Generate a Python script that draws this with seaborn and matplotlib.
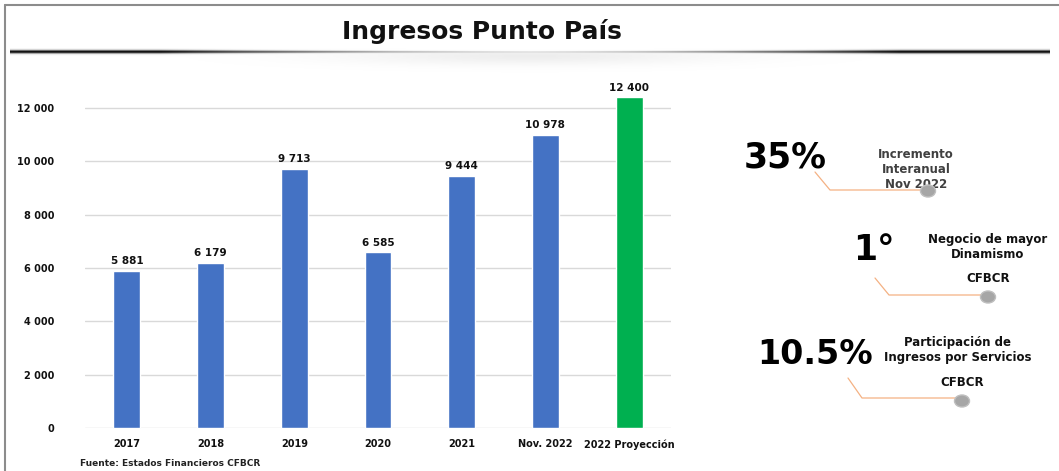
import numpy as np
import pandas as pd
import seaborn as sns
import matplotlib.pyplot as plt
from matplotlib.lines import Line2D
from matplotlib.patches import Ellipse

categories = ['2017', '2018', '2019', '2020', '2021', 'Nov. 2022', '2022 Proyección']
values = [5881, 6179, 9713, 6585, 9444, 10978, 12400]
bar_colors = ['#4472C4'] * 6 + ['#00B050']
y_ticks = [0, 2000, 4000, 6000, 8000, 10000, 12000]


def fmt(v):
    return f'{v:,}'.replace(',', ' ')


sns.set_style('white')
plt.rcParams['font.family'] = ['DejaVu Sans']

W, H = 1059, 471
fig = plt.figure(figsize=(W / 100, H / 100), dpi=100)
fig.patch.set_facecolor('white')


def px(x, y):
    return x / W, 1 - y / H


# frame (top and left edges only)
fig.add_artist(Line2D([5 / W, 1], [1 - 5 / H] * 2, color='#8c8c8c', lw=1.5,
                      transform=fig.transFigure))
fig.add_artist(Line2D([5 / W] * 2, [0, 1 - 5 / H], color='#8c8c8c', lw=1.5,
                      transform=fig.transFigure))

# title + shaded rule beneath it
fig.text(*px(482, 32), 'Ingresos Punto País', ha='center', va='center',
         fontsize=18, fontweight='bold', color='#111111')
gax = fig.add_axes([10 / W, 1 - 74 / H, 1040 / W, 26 / H])
xs = np.linspace(-1, 1, 600)
ys = np.linspace(0, 1, 26)[:, None]
edge = np.clip(np.abs(xs) * 1.4, 0, 1) ** 1.3
line = np.exp(-((ys - 0.13) / (0.03 + 0.05 * edge)) ** 2) * (0.2 + 0.75 * edge)
shade = np.exp(-((ys - 0.3) / 0.35) ** 2) * np.exp(-(xs / 0.35) ** 2) * 0.14
img = np.clip(line + shade * (ys > 0.13), 0, 1)
gax.imshow(img, cmap='Greys', vmin=0, vmax=1, aspect='auto', interpolation='bilinear')
gax.axis('off')

# bar chart
ax = fig.add_axes([85 / W, 43 / H, 586 / W, 332 / H])
df = pd.DataFrame({'cat': categories, 'val': values})
sns.barplot(data=df, x='cat', y='val', hue='cat', palette=bar_colors, legend=False,
            width=0.32, ax=ax, saturation=1)
ax.set_ylim(0, 12450)
ax.set_xlim(-0.5, 6.5)
ax.set_yticks(y_ticks)
ax.set_yticklabels([fmt(t) for t in y_ticks], fontsize=7, fontweight='bold')
ax.set_xticks(range(len(categories)))
ax.set_xticklabels(categories, fontsize=7, fontweight='bold')
ax.tick_params(axis='both', length=0, pad=8, colors='#111111')
ax.tick_params(axis='y', pad=22)
ax.set_xlabel('')
ax.set_ylabel('')
ax.grid(axis='y', color='#d9d9d9', lw=1)
ax.set_axisbelow(True)
for s in ax.spines.values():
    s.set_visible(False)
for p in ax.patches:
    p.set_clip_on(False)
for i, v in enumerate(values):
    ax.text(i, v + 180, fmt(v), ha='center', va='bottom', fontsize=7.5,
            fontweight='bold', clip_on=False, color='#111111')

fig.text(80 / W, 1 - 463 / H, 'Fuente: Estados Financieros CFBCR', fontsize=6.5,
         fontweight='bold', va='center', color='#222222')


# right-hand callouts
def callout(pts, dot):
    xs_, ys_ = zip(*[px(*p) for p in pts])
    fig.add_artist(Line2D(xs_, ys_, color='#f4b183', lw=0.9, transform=fig.transFigure))
    cx, cy = px(*dot)
    fig.add_artist(Ellipse((cx, cy), 15 / W, 12 / H, transform=fig.transFigure,
                           facecolor='#a6a6a6', edgecolor='#bfbfbf', zorder=5))


callout([(815, 172), (830, 190), (925, 190)], (928, 191))
fig.text(*px(785, 158), '35%', fontsize=25, fontweight='bold', ha='center', va='center',
         color='black')
fig.text(*px(916, 170), 'Incremento\nInteranual\nNov 2022', fontsize=8.5,
         fontweight='bold', ha='center', va='center', color='#404040', linespacing=1.2)

callout([(875, 278), (889, 295), (985, 295)], (988, 297))
fig.text(*px(874, 250), '1°', fontsize=25, fontweight='bold', ha='center', va='center',
         color='black')
fig.text(*px(988, 247), 'Negocio de mayor\nDinamismo', fontsize=8.5,
         fontweight='bold', ha='center', va='center', linespacing=1.2, color='#111111')
fig.text(*px(988, 279), 'CFBCR', fontsize=8.5, fontweight='bold', ha='center', va='center',
         color='#111111')

callout([(848, 378), (862, 398), (958, 398)], (962, 401))
fig.text(*px(815, 355), '10.5%', fontsize=24, fontweight='bold', ha='center', va='center',
         color='black')
fig.text(*px(958, 350), 'Participación de\nIngresos por Servicios', fontsize=8.5,
         fontweight='bold', ha='center', va='center', linespacing=1.2, color='#111111')
fig.text(*px(962, 383), 'CFBCR', fontsize=8.5, fontweight='bold', ha='center', va='center',
         color='#111111')

fig.savefig('out.png', dpi=100)
